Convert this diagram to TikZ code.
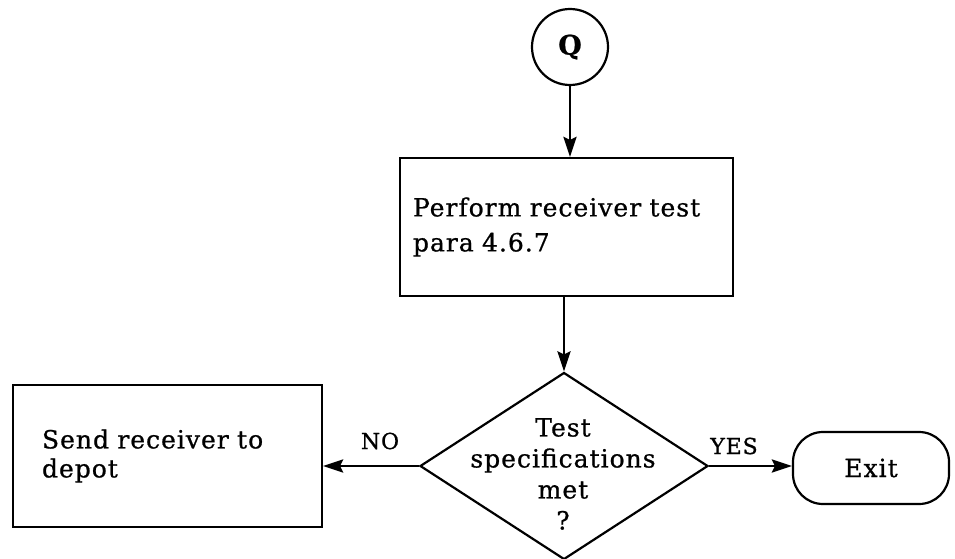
\documentclass[tikz,border=0pt]{standalone}
\usepackage{fontspec}
\setmainfont{DejaVu Serif}[LetterSpace=4,FakeBold=0.8]
\usetikzlibrary{shapes.geometric,arrows.meta}
\begin{document}
\begin{tikzpicture}[x=1pt,y=-1pt,
  box/.style={draw,line width=2.2pt,align=left,inner ysep=0pt},
  arr/.style={line width=2.8pt,-{Stealth[length=20pt,width=13pt,inset=3pt]}},
  main/.style={font=\fontsize{25}{35}\selectfont},
  lbl/.style={font=\fontsize{22}{25}\selectfont,inner sep=0pt}]
\useasboundingbox (0,0) rectangle (955,559);
\node[draw,circle,line width=2.2pt,minimum size=76pt,inner sep=0pt,font=\fontsize{27}{30}\selectfont\bfseries] (q) at (570,47) {Q};
\node[box,main,minimum width=333pt,minimum height=138pt,inner xsep=13pt,text width=307pt] (perf) at (566.5,227) {Perform receiver test\\para 4.6.7};
\node[draw,diamond,line width=2.2pt,minimum width=288pt,minimum height=187pt,inner sep=0pt] (dia) at (564,466) {};
\node[align=center,inner sep=0pt,font=\fontsize{25}{31}\selectfont] (dtext) at (563,474) {Test\\specifications\\met\\?};
\node[box,font=\fontsize{25}{29}\selectfont,minimum width=309pt,minimum height=142pt,inner xsep=29pt,text width=251pt] (send) at (167.5,456) {Send receiver to\\depot};
\node[draw,line width=2.2pt,rounded corners=30pt,minimum width=156pt,minimum height=72pt,font=\fontsize{25}{30}\selectfont] (exit) at (871,468) {Exit};
\draw[arr] (q.south) -- (q.south |- perf.north);
\draw[arr] (dia.north |- perf.south) -- (dia.north);
\draw[arr] (dia.west) -- (dia.west -| send.east);
\draw[arr] (dia.east) -- (dia.east -| exit.west);
\node[lbl] (no) at (380,441) {NO};
\node[lbl] (yes) at (734,446) {YES};
\end{tikzpicture}
\end{document}
